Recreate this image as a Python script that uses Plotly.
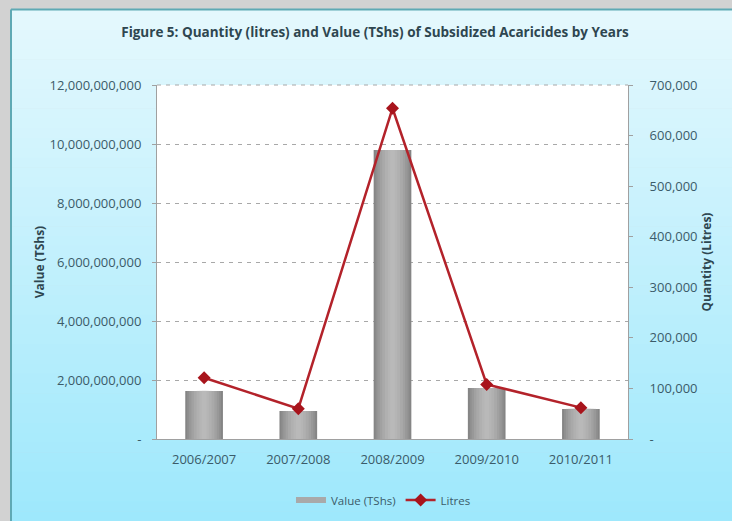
import plotly.graph_objects as go

# Subsidized acaricides by financial year
years = ["2006/2007", "2007/2008", "2008/2009", "2009/2010", "2010/2011"]
value_tshs = [1.63e9, 0.95e9, 9.8e9, 1.73e9, 1.02e9]
litres = [121000, 60000, 654000, 108000, 62000]

left_ticks = [0, 2e9, 4e9, 6e9, 8e9, 10e9, 12e9]
left_ticktext = ["-", "2,000,000,000", "4,000,000,000", "6,000,000,000",
                 "8,000,000,000", "10,000,000,000", "12,000,000,000"]
right_ticks = [0, 100000, 200000, 300000, 400000, 500000, 600000, 700000]
right_ticktext = ["-", "100,000", "200,000", "300,000", "400,000",
                  "500,000", "600,000", "700,000"]

W, H = 732, 521
L, R, T, B = 157, 628, 85, 439  # plot area in pixels

FONT = "Open Sans"
TXT = "#3b5b69"
DARK = "#2e4650"


def px_x(p):
    return (p - L) / (R - L)


def px_y(p):
    return (B - p) / (B - T)


fig = go.Figure()

# Cylinder-like shading: stacked bars of decreasing width and lighter grey
bar_layers = [(0.40, "#858585"), (0.36, "#8f8f8f"), (0.32, "#989898"),
              (0.27, "#a1a1a1"), (0.22, "#a9a9a9"), (0.16, "#b0b0b0"),
              (0.10, "#b5b5b5"), (0.05, "#b9b9b9")]
for i, (w, c) in enumerate(bar_layers):
    fig.add_trace(go.Bar(
        x=years, y=value_tshs, width=w, name="Value (TShs)",
        marker=dict(color=c, line=dict(width=0)),
        showlegend=False, legendgroup="value",
        yaxis="y", hoverinfo="skip" if i else None,
    ))

# Flat, wide legend key for the bar series
fig.add_trace(go.Scatter(
    x=[None], y=[None], mode="lines", name="Value (TShs)",
    legendgroup="value", line=dict(color="#a9a9a9", width=6),
    hoverinfo="skip",
))

fig.add_trace(go.Scatter(
    x=years, y=litres, name="Litres", yaxis="y2",
    mode="lines+markers",
    line=dict(color="#b3222a", width=2.5),
    marker=dict(symbol="diamond", size=10, color="#a8141c"),
))

# Background: grey frame, light-blue vertical gradient, white plot area
shapes = [dict(type="rect", xref="paper", yref="paper",
               x0=px_x(0), x1=px_x(W), y0=px_y(H), y1=px_y(0),
               fillcolor="#d2d2d2", line=dict(width=0), layer="below")]
top_rgb = (228, 248, 253)
bot_rgb = (158, 232, 252)
n = 52
y_start, y_end = 10, H
for k in range(n):
    f = k / (n - 1)
    c = tuple(round(top_rgb[j] + (bot_rgb[j] - top_rgb[j]) * f) for j in range(3))
    y0 = y_start + (y_end - y_start) * k / n
    y1 = y_start + (y_end - y_start) * (k + 1) / n + 0.6
    shapes.append(dict(type="rect", xref="paper", yref="paper",
                       x0=px_x(12), x1=px_x(W), y0=px_y(y1), y1=px_y(y0),
                       fillcolor="rgb(%d,%d,%d)" % c, line=dict(width=0),
                       layer="below"))
# teal frame edge
shapes.append(dict(type="line", xref="paper", yref="paper",
                   x0=px_x(11), x1=px_x(11), y0=px_y(H), y1=px_y(9.5),
                   line=dict(color="#5fa9b4", width=2), layer="below"))
shapes.append(dict(type="line", xref="paper", yref="paper",
                   x0=px_x(11), x1=px_x(W), y0=px_y(9.5), y1=px_y(9.5),
                   line=dict(color="#5fa9b4", width=2), layer="below"))
shapes.append(dict(type="rect", xref="paper", yref="paper",
                   x0=0, x1=1, y0=0, y1=1, fillcolor="white",
                   line=dict(width=0), layer="below"))
# dashed gridline along the top edge of the plot area
shapes.append(dict(type="line", xref="paper", yref="paper",
                   x0=0, x1=1, y0=1, y1=1,
                   line=dict(color="#a8a8a8", width=1, dash="4px,5px"),
                   layer="below"))

fig.update_layout(
    width=W, height=H,
    margin=dict(l=L, r=W - R, t=T, b=H - B, pad=0, autoexpand=False),
    paper_bgcolor="#d2d2d2",
    plot_bgcolor="white",
    barmode="overlay",
    shapes=shapes,
    font=dict(family=FONT, color=TXT, size=12),
    title=dict(
        text="<b>Figure 5: Quantity (litres) and Value (TShs) of Subsidized Acaricides by Years</b>",
        x=375 / W, xanchor="center", y=1 - 32 / H, yanchor="middle",
        font=dict(family=FONT, size=13.5, color=DARK),
    ),
    xaxis=dict(
        type="category", automargin=False,
        showline=True, linecolor="#a0a0a0", linewidth=1,
        ticks="", showgrid=False,
        tickfont=dict(size=13, color=TXT),
        ticklabelstandoff=8,
    ),
    yaxis=dict(
        range=[0, 12e9], tickvals=left_ticks, ticktext=left_ticktext,
        automargin=False,
        showline=True, linecolor="#a0a0a0", linewidth=1,
        ticks="outside", ticklen=4, tickcolor="#a0a0a0",
        showgrid=True, gridcolor="#a8a8a8", griddash="4px,5px", gridwidth=1,
        zeroline=False,
        tickfont=dict(size=13, color=TXT),
        title=dict(text="<b>Value (TShs)</b>", font=dict(size=12, color=DARK),
                   standoff=2),
        ticklabelstandoff=8,
    ),
    yaxis2=dict(
        range=[0, 700000], tickvals=right_ticks, ticktext=right_ticktext,
        overlaying="y", side="right", automargin=False,
        showline=True, linecolor="#a0a0a0", linewidth=1,
        ticks="outside", ticklen=4, tickcolor="#a0a0a0",
        showgrid=False, zeroline=False,
        tickfont=dict(size=13, color=TXT),
        title=dict(text="<b>Quantity (Litres)</b>", font=dict(size=12, color=DARK),
                   standoff=4),
        ticklabelstandoff=14,
    ),
    legend=dict(
        orientation="h", x=352 / W, xanchor="center",
        yref="container", y=1 - 500 / H, yanchor="middle",
        bgcolor="rgba(0,0,0,0)",
        font=dict(size=11.5, color=TXT),
        itemwidth=30,
    ),
)

fig.write_html("out.html")
